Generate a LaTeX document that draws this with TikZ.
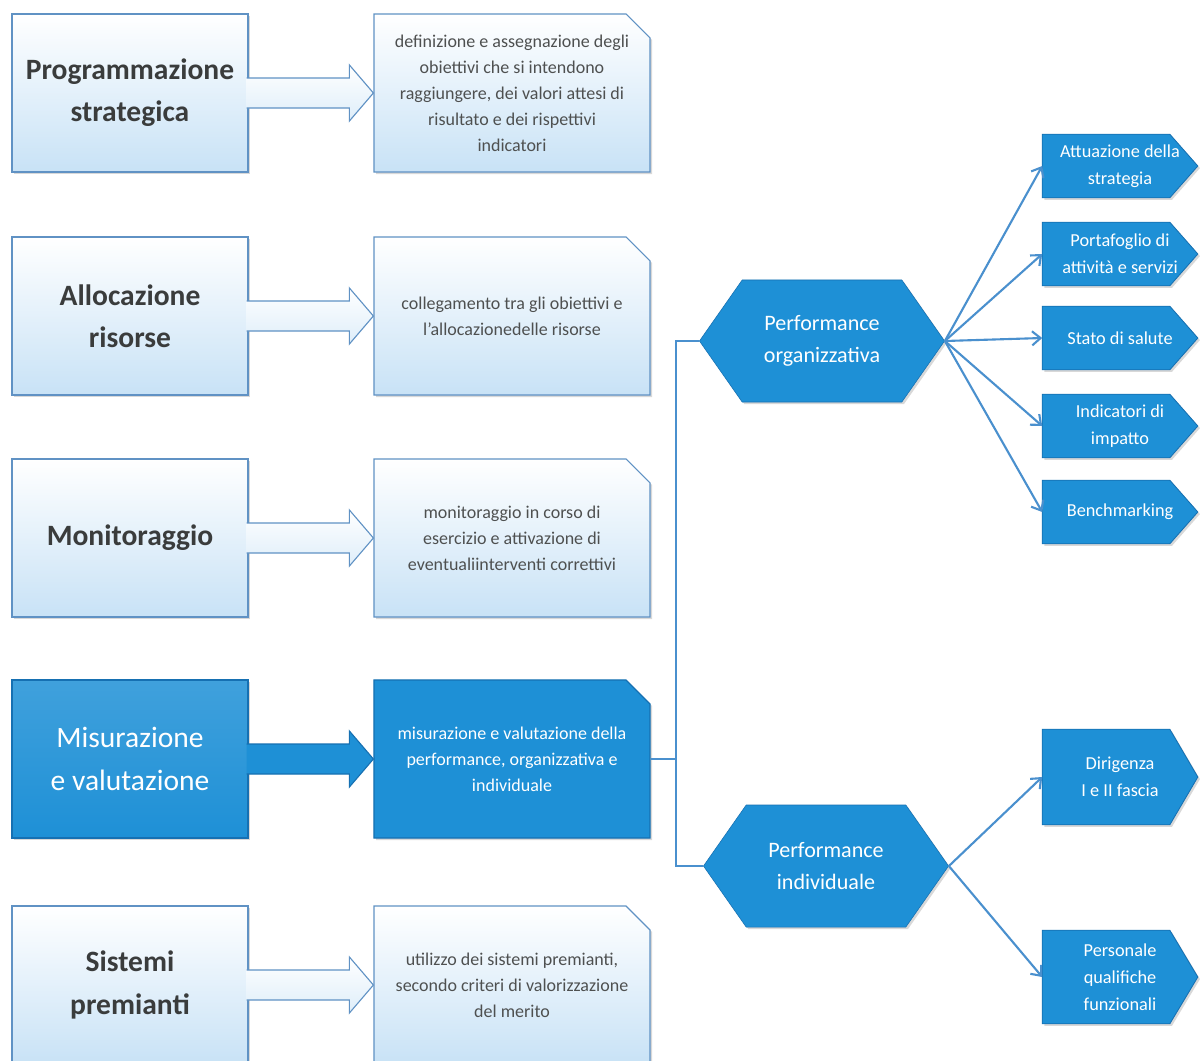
\documentclass[tikz,border=0pt]{standalone}
\usepackage{fontspec}
\setmainfont{Carlito}
\usepackage{tikz}
\usetikzlibrary{shapes.geometric, shapes.misc, shapes.symbols, arrows.meta, positioning, calc, shadows, backgrounds}
\definecolor{boxblue}{RGB}{30,144,214}
\definecolor{edgeblue}{RGB}{22,112,178}
\definecolor{lineblue}{RGB}{74,144,206}
\definecolor{paleblue}{RGB}{200,226,246}
\definecolor{frameblue}{RGB}{96,146,196}
\definecolor{inkgray}{RGB}{58,60,60}
\definecolor{textgray}{RGB}{78,80,80}

% block arrow from the east side of #1 to the west side of #2
\newcommand{\blockarrow}[3]{%
  \path[#3] ($(#1.east)+(-2,-15)$) -- ($(#2.west)+(-24,-15)$) -- ($(#2.west)+(-24,-28)$)
    -- (#2.west) -- ($(#2.west)+(-24,28)$) -- ($(#2.west)+(-24,15)$) -- ($(#1.east)+(-2,15)$);
}
% pentagon behind a tag node
\newcommand{\tagshape}[1]{%
  \path[tagfill] (#1.north west) -- ($(#1.north east)+(-28,0)$) -- (#1.east)
    -- ($(#1.south east)+(-28,0)$) -- (#1.south west) -- cycle;
}

\begin{document}
\begin{tikzpicture}[
    x=0.025cm, y=-0.025cm,
    softshadow/.style={drop shadow={opacity=0.3, shadow xshift=1.5pt, shadow yshift=-1.5pt}},
    leftbox/.style={rectangle, draw=frameblue, line width=0.8pt, top color=white, bottom color=paleblue,
                    minimum width=5.9cm, minimum height=3.95cm, align=center, text=inkgray,
                    font=\fontsize{21}{30}\selectfont\bfseries, softshadow},
    leftboxhot/.style={leftbox, draw=edgeblue, top color=boxblue!85!white, bottom color=boxblue, text=white,
                    font=\fontsize{21}{30}\selectfont},
    notebox/.style={chamfered rectangle, chamfered rectangle corners=north east,
                    chamfered rectangle xsep=0.3cm, chamfered rectangle ysep=0.3cm, inner sep=0pt,
                    draw=frameblue, line width=0.8pt, top color=white, bottom color=paleblue,
                    minimum width=6.9cm, minimum height=3.95cm, align=center, text=textgray,
                    font=\fontsize{12.8}{18.5}\selectfont, softshadow},
    noteboxhot/.style={notebox, draw=edgeblue, top color=boxblue, bottom color=boxblue, text=white},
    hexbox/.style={signal, signal to=west and east, signal pointer angle=110, draw=edgeblue, fill=boxblue,
                   minimum width=6.125cm, minimum height=3.05cm, align=center, text=white,
                   font=\fontsize{15.7}{22.5}\selectfont, softshadow},
    tagbox/.style={rectangle, minimum width=3.875cm, minimum height=1.575cm, inner sep=0pt, align=center,
                   text=white, font=\fontsize{13}{19}\selectfont},
    tagfill/.style={draw=edgeblue, line width=0.6pt, fill=boxblue, softshadow},
    arrowlight/.style={draw=frameblue, line width=0.8pt, top color=white, bottom color=paleblue!60!white},
    arrowhot/.style={draw=edgeblue, line width=0.8pt, fill=boxblue},
    bus/.style={draw=lineblue, line width=1.5pt},
    fan/.style={draw=lineblue, line width=1.5pt, -{Straight Barb[length=6pt, width=10pt]}}
]
    \useasboundingbox (0,0) rectangle (1200,1060);

    % Left column
    \node[leftbox] (prog) at (130,93) {Programmazione\\strategica};
    \node[leftbox] (alloc) at (130,316) {Allocazione\\risorse};
    \node[leftbox] (monit) at (130,538) {Monitoraggio};
    \node[leftboxhot] (misur) at (130,759) {Misurazione\\e valutazione};
    \node[leftbox] (premi) at (130,985) {Sistemi\\premianti};

    % Description boxes
    \node[notebox] (dprog) at (512,93) {definizione e assegnazione degli\\obiettivi che si intendono\\raggiungere, dei valori attesi di\\risultato e dei rispettivi\\indicatori};
    \node[notebox] (dalloc) at (512,316) {collegamento tra gli obiettivi e\\l'allocazionedelle risorse};
    \node[notebox] (dmonit) at (512,538) {monitoraggio in corso di\\esercizio e attivazione di\\eventualiinterventi correttivi};
    \node[noteboxhot] (dmisur) at (512,759) {misurazione e valutazione della\\performance, organizzativa e\\individuale};
    \node[notebox] (dpremi) at (512,985) {utilizzo dei sistemi premianti,\\secondo criteri di valorizzazione\\del merito};

    % Block arrows
    \blockarrow{prog}{dprog}{arrowlight}
    \blockarrow{alloc}{dalloc}{arrowlight}
    \blockarrow{monit}{dmonit}{arrowlight}
    \blockarrow{misur}{dmisur}{arrowhot}
    \blockarrow{premi}{dpremi}{arrowlight}

    % Performance
    \node[hexbox] (perforg) at (822,341) {Performance\\organizzativa};
    \node[hexbox] (perfind) at (826,866) {Performance\\individuale};

    \draw[bus] (dmisur.east) -- ++(25,0) coordinate (split);
    \draw[bus] (split) |- (perforg.west);
    \draw[bus] (split) |- (perfind.west);

    % Right column
    \node[tagbox] (attua) at (1120,166) {Attuazione della\\strategia};
    \node[tagbox] (porta) at (1120,254) {Portafoglio di\\attività e servizi};
    \node[tagbox] (stato) at (1120,338) {Stato di salute};
    \node[tagbox] (indic) at (1120,426) {Indicatori di\\impatto};
    \node[tagbox] (bench) at (1120,512) {Benchmarking};
    \node[tagbox, minimum height=2.375cm] (dirig) at (1120,777) {Dirigenza\\I e II fascia};
    \node[tagbox, minimum height=2.325cm] (perso) at (1120,977) {Personale\\qualifiche\\funzionali};

    \begin{scope}[on background layer]
        \fill[white] (0,0) rectangle (1200,1060);
        \foreach \t in {attua, porta, stato, indic, bench, dirig, perso} {
            \tagshape{\t}
        }
    \end{scope}

    \foreach \t in {attua, porta, stato, indic, bench}
        \draw[fan] (perforg.east) -- (\t.west);
    \foreach \t in {dirig, perso}
        \draw[fan] (perfind.east) -- (\t.west);
\end{tikzpicture}
\end{document}
